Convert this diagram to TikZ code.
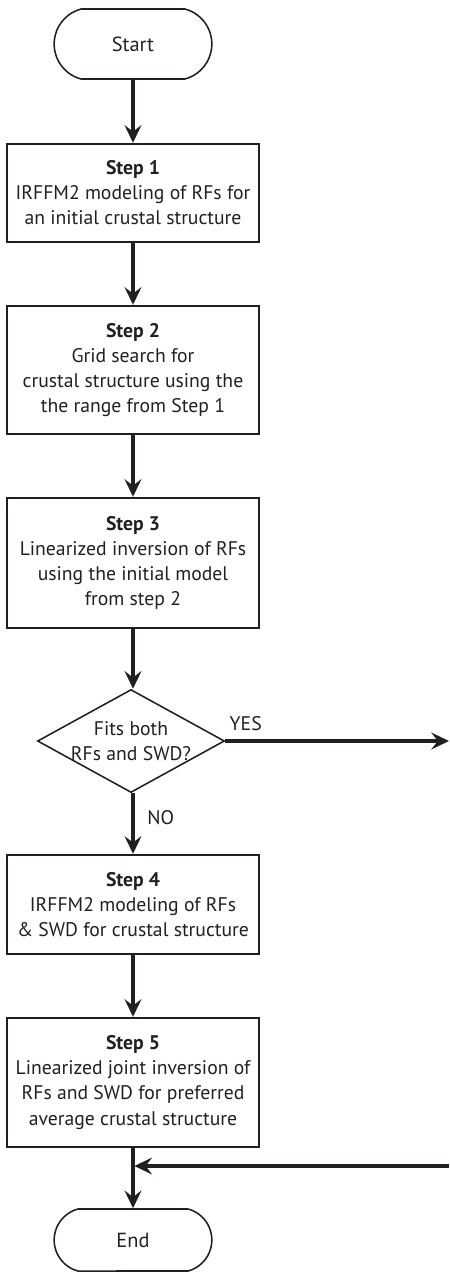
\documentclass[tikz,border=0pt]{standalone}
\usepackage{fontspec}
\setmainfont{PT Sans}
\usetikzlibrary{arrows.meta,shapes.geometric,shapes.misc}
\definecolor{inkblack}{HTML}{231F20}
\tikzset{my step box/.style={
  draw=inkblack,
  line width=1.7pt,
  minimum width=6.3cm,
  align=center,
  font=\fontsize{14}{17.8}\selectfont
  }
}
\tikzset{my terminal/.style={
  draw=inkblack,
  line width=1.1pt,
  rounded rectangle,
  rounded rectangle arc length=150,
  minimum width=4.175cm,
  font=\fontsize{14.5}{17.8}\selectfont
  }
}
\tikzset{my decision/.style={
  draw=inkblack,
  line width=1.1pt,
  diamond,
  aspect=1.8,
  inner sep=-4pt,
  minimum width=4.675cm,
  minimum height=2.575cm,
  align=center,
  font=\fontsize{14}{17.8}\selectfont
  }
}
\tikzset{my arrow/.style={
  inkblack,
  line width=2.5pt,
  -{Stealth[length=0.44cm,width=0.42cm,inset=0.16cm]}
  }
}

\begin{document}
\begin{tikzpicture}[x=0.025cm,y=-0.025cm,color=inkblack]
    \useasboundingbox (0,0) rectangle (449,1272);

    \node[my terminal,minimum height=1.75cm] (start) at (133,44) {Start};

    \foreach \yy/\hh/\txt [count=\n] in {193/2.45/{\textbf{Step 1}\\IRFFM2 modeling of RFs for\\an initial crustal structure},
        370/3.2/{\textbf{Step 2}\\Grid search for\\crustal structure using the\\the range from Step 1},
        563/3.25/{\textbf{Step 3}\\Linearized inversion of RFs\\using the initial model\\from step 2}}
        \node[my step box,minimum height=\hh cm] (S\n) at (133,\yy) {\txt};

    \node[my decision] (fit) at (131,741) {Fits both\\RFs and SWD?};

    \foreach \yy/\hh/\txt [count=\m] in {904.5/2.475/{\textbf{Step 4}\\IRFFM2 modeling of RFs\\\& SWD for crustal structure},
        1082.5/3.225/{\textbf{Step 5}\\Linearized joint inversion of\\RFs and SWD for preferred\\average crustal structure}}
        \node[my step box,minimum height=\hh cm] (T\m) at (133,\yy) {\txt};

    \node[my terminal,minimum height=1.55cm] (end) at (133,1240) {End};

    \coordinate (yes out) at (449,741);
    \coordinate (yes back) at (449,1166);

    \draw[my arrow] (start.south) -- (S1.north);
    \draw[my arrow] (S1.south) -- (S2.north);
    \draw[my arrow] (S2.south) -- (S3.north);
    \draw[my arrow] (S3.south) -- (S3.south |- fit.north);
    \draw[my arrow] (fit.east) -- (yes out)
        node[pos=0,anchor=south west,xshift=-0.05cm,yshift=0.1cm,font=\fontsize{14}{17.8}\selectfont] {YES};
    \draw[my arrow] (fit.south -| T1.north) -- (T1.north)
        node[pos=0.4,right,xshift=0.2cm,font=\fontsize{14}{17.8}\selectfont] {NO};
    \draw[my arrow] (T1.south) -- (T2.north);
    \draw[my arrow] (T2.south) -- (end.north);
    \draw[my arrow,shorten >=1pt] (yes back) -- (yes back -| end.north);

\end{tikzpicture}
\end{document}
